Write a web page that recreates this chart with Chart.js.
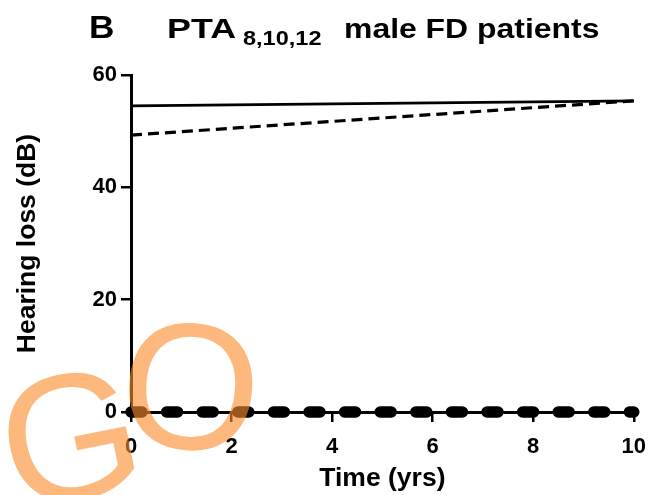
<!DOCTYPE html>
<html>
<head>
<meta charset="utf-8">
<script src="https://cdn.jsdelivr.net/npm/chart.js@4"></script>
<style>
    body { margin: 0; background: #fff; }
    #wrap { width: 658px; height: 495px; position: relative; }
</style>
</head>
<body>
<div id="wrap"><canvas id="chart"></canvas></div>
<script>
// Data
const years = [0, 10];
const solidSeries = [54.5, 55.4];
const dashedSeries = [49.3, 55.4];
const zeroSeries = [0, 0];
const xTicks = [0, 2, 4, 6, 8, 10];
const yTicks = [0, 20, 40, 60];

const panelLetter = 'B';
const titleMain = 'PTA';
const titleSub = '8,10,12';
const titleRest = 'male FD patients';
const xTitle = 'Time (yrs)';
const yTitle = 'Hearing loss (dB)';
const watermark = ['G', 'O'];

const FONT = "'Liberation Sans', Arial, sans-serif";

function toPoints(ys) {
    return years.map((x, i) => ({ x: x, y: ys[i] }));
}

// Panel letter, title with subscript and the orange "GO" overlay
const decorations = {
    id: 'decorations',
    afterDraw(chart) {
        const ctx = chart.ctx;
        ctx.save();
        ctx.fillStyle = '#000';
        ctx.textBaseline = 'alphabetic';

        function stretched(text, x, y, font, sx) {
            ctx.save();
            ctx.font = font;
            ctx.translate(x, y);
            ctx.scale(sx, 1);
            ctx.fillText(text, 0, 0);
            ctx.restore();
        }
        stretched(panelLetter, 89, 38, 'bold 32px ' + FONT, 1.1);
        stretched(titleMain, 167, 38, 'bold 28px ' + FONT, 1.28);
        stretched(titleSub, 243, 45, 'bold 21px ' + FONT, 1.12);
        stretched(titleRest, 344, 38, 'bold 28px ' + FONT, 1.14);

        // watermark letters
        ctx.fillStyle = 'rgba(252, 142, 45, 0.62)';
        ctx.font = '180px ' + FONT;
        ctx.save();
        ctx.translate(14, 512);
        ctx.rotate(-0.2);
        ctx.fillText(watermark[0], 0, 0);
        ctx.restore();
        ctx.save();
        ctx.translate(116, 443);
        ctx.rotate(0.08);
        ctx.fillText(watermark[1], 0, 0);
        ctx.restore();

        ctx.restore();
    }
};

const tickFont = { family: FONT, size: 22, weight: 'bold' };
const titleFont = { family: FONT, size: 26.5, weight: 'bold' };

new Chart(document.getElementById('chart'), {
    type: 'line',
    data: {
        datasets: [
            {
                data: toPoints(solidSeries),
                borderColor: '#000',
                borderWidth: 2.8,
                pointRadius: 0,
                clip: false
            },
            {
                data: toPoints(dashedSeries),
                borderColor: '#000',
                borderWidth: 3.2,
                borderDash: [11, 6],
                pointRadius: 0,
                clip: false
            },
            {
                data: toPoints(zeroSeries),
                borderColor: '#000',
                borderWidth: 11.5,
                borderDash: [11, 24.6],
                borderCapStyle: 'round',
                pointRadius: 0,
                clip: false
            }
        ]
    },
    options: {
        responsive: true,
        maintainAspectRatio: false,
        animation: false,
        layout: {
            padding: { top: 75, right: 16, bottom: 0, left: 0 }
        },
        plugins: {
            legend: { display: false },
            tooltip: { enabled: false },
            title: { display: false }
        },
        scales: {
            x: {
                type: 'linear',
                min: 0,
                max: 10,
                afterBuildTicks: (scale) => {
                    scale.ticks = xTicks.map(v => ({ value: v }));
                },
                afterFit: (scale) => { scale.height = 83; },
                border: { display: true, color: '#000', width: 3 },
                grid: {
                    drawOnChartArea: false,
                    drawTicks: true,
                    tickLength: 10,
                    color: '#000',
                    lineWidth: 2.5
                },
                ticks: {
                    color: '#000',
                    font: tickFont,
                    padding: 12,
                    maxRotation: 0
                },
                title: {
                    display: true,
                    text: xTitle,
                    color: '#000',
                    font: titleFont,
                    padding: { top: 0, bottom: 0 }
                }
            },
            y: {
                min: 0,
                max: 60,
                afterBuildTicks: (scale) => {
                    scale.ticks = yTicks.map(v => ({ value: v }));
                },
                afterFit: (scale) => { scale.width = 131; },
                border: { display: true, color: '#000', width: 3 },
                grid: {
                    drawOnChartArea: false,
                    drawTicks: true,
                    tickLength: 10,
                    color: '#000',
                    lineWidth: 2.5
                },
                ticks: {
                    color: '#000',
                    font: tickFont,
                    padding: 4
                },
                title: {
                    display: true,
                    text: yTitle,
                    color: '#000',
                    font: titleFont,
                    padding: { top: 12, bottom: 0 }
                }
            }
        }
    },
    plugins: [decorations]
});
</script>
</body>
</html>
